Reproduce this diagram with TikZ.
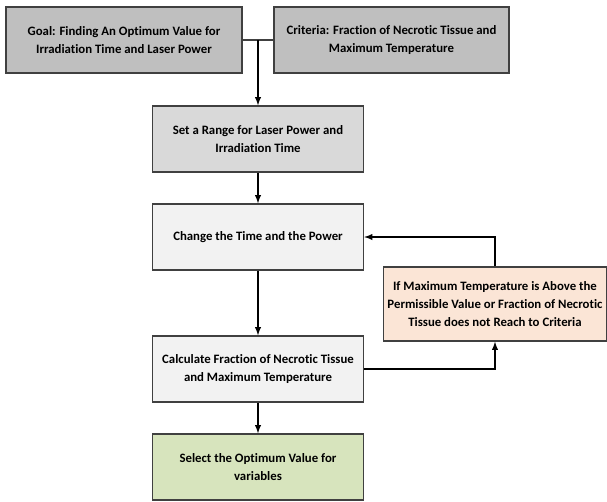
\documentclass[tikz,border=0pt]{standalone}
\usepackage{fontspec}
\setmainfont[Ligatures=NoCommon]{Carlito}
\usepackage{tikz}
\usetikzlibrary{arrows,calc,positioning}
\definecolor{darkbox}{HTML}{BFBFBF}
\definecolor{midbox}{HTML}{D9D9D9}
\definecolor{lightbox}{HTML}{F2F2F2}
\definecolor{condbox}{HTML}{FBE5D6}
\definecolor{endbox}{HTML}{D7E4BD}
\definecolor{edge}{HTML}{404040}

\begin{document}
\begin{tikzpicture}[x=0.75pt,y=-0.75pt,>=latex,
  box/.style={draw=edge,line width=1.1pt,align=center,inner sep=2pt,
    minimum width=158.25pt,minimum height=49.5pt,
    font=\fontsize{9.6}{13.5}\selectfont\bfseries},
  flow/.style={->,line width=1.1pt,black}]
\useasboundingbox (0,0) rectangle (607,501);
\node[box,fill=darkbox,minimum width=177pt] (goal) at (124,40) {Goal: Finding An Optimum Value for\\Irradiation Time and Laser Power};
\node[box,fill=darkbox,minimum width=176pt] (crit) at (391.5,40) {Criteria: Fraction of Necrotic Tissue and\\Maximum Temperature};
\node[box,fill=midbox] (range) at (258,139) {Set a Range for Laser Power and\\Irradiation Time};
\node[box,fill=lightbox] (change) at (258,237) {Change the Time and the Power};
\node[box,fill=lightbox] (calc) at (258,369) {Calculate Fraction of Necrotic Tissue\\and Maximum Temperature};
\node[box,fill=endbox] (select) at (258,467) {Select the Optimum Value for\\variables};
\node[box,fill=condbox,minimum width=167pt,minimum height=55.5pt] (cond) at (495,304) {If Maximum Temperature is Above the\\Permissible Value or Fraction of Necrotic\\Tissue does not Reach to Criteria};
% joining the two top boxes
\coordinate (join) at (goal.east -| range.north);
\draw[line width=1.1pt,edge] (goal.east) -- (crit.west);
\draw[flow] (join) -- (range.north);
\draw[flow] (range) -- (change);
\draw[flow] (change) -- (calc);
\draw[flow] (calc) -- (select);
% loop back
\draw[flow] (calc.east) -| (cond.south);
\draw[flow] (cond.north) |- (change.east);
\end{tikzpicture}
\end{document}
